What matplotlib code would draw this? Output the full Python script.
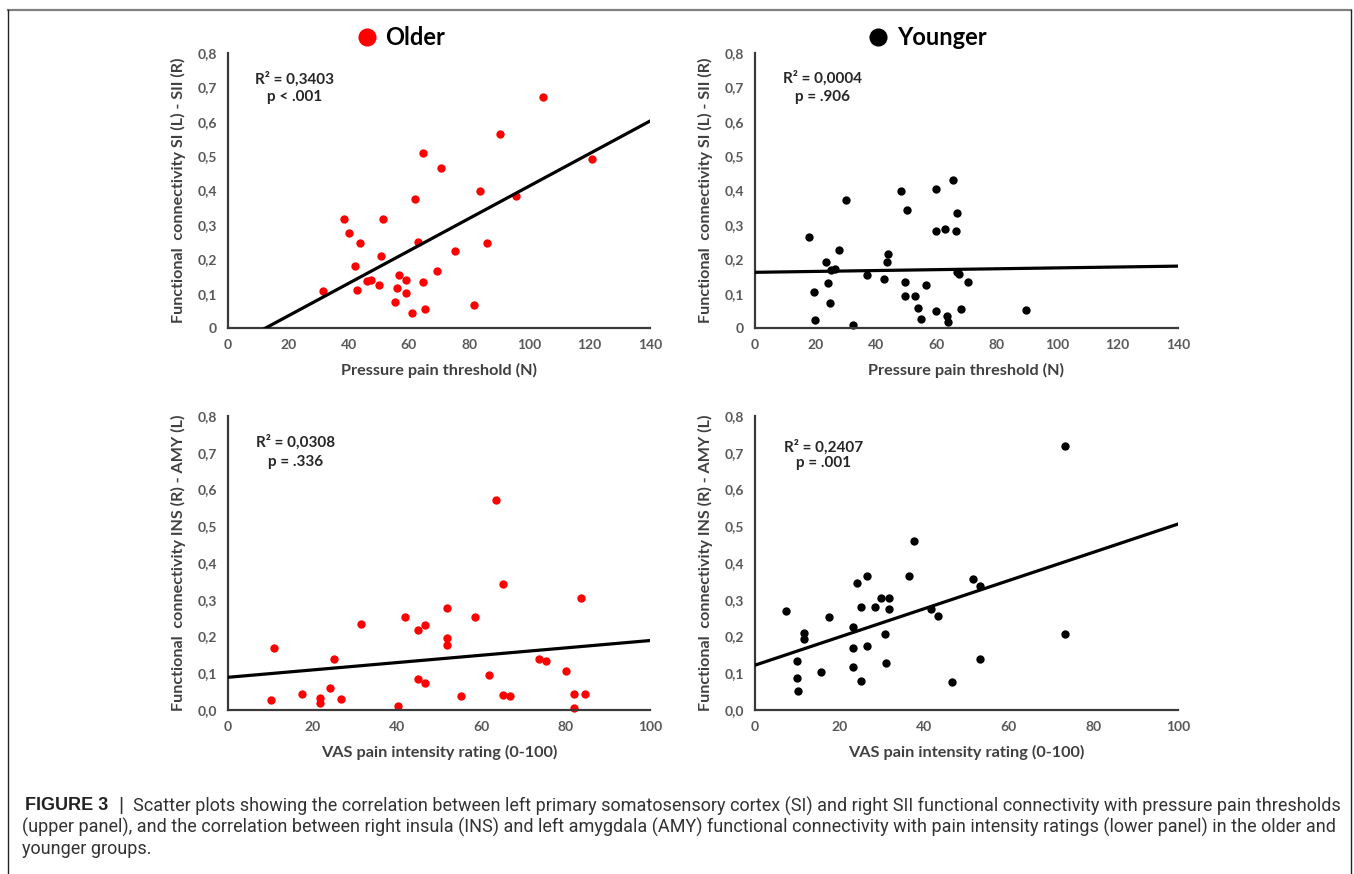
import numpy as np
import matplotlib
matplotlib.use('Agg')
from matplotlib import pyplot as plt
from matplotlib import font_manager
from matplotlib.lines import Line2D

# ---- data ----
# older group, pressure pain threshold vs SI(L)-SII(R)
older_ppt_x = [31.5, 38.5, 40.0, 43.8, 42.1, 42.7, 46.1, 47.6, 50.1, 50.9, 51.4,
               55.4, 56.2, 56.7, 58.9, 59.1, 61.2, 61.9, 62.9, 64.6, 64.6, 65.2,
               69.5, 70.7, 75.4, 81.5, 83.6, 86.0, 90.1, 95.7, 104.6, 120.7]
older_ppt_y = [0.107, 0.318, 0.277, 0.246, 0.179, 0.110, 0.136, 0.141, 0.126, 0.209, 0.318,
               0.075, 0.117, 0.155, 0.102, 0.139, 0.045, 0.375, 0.250, 0.510, 0.133, 0.054,
               0.167, 0.465, 0.224, 0.067, 0.399, 0.248, 0.563, 0.383, 0.673, 0.492]
older_ppt_trend = [-0.059, 0.602]   # trend line value at x=0 and x=140

# younger group, pressure pain threshold vs SI(L)-SII(R)
younger_ppt_x = [18.0, 19.4, 20.0, 23.4, 24.3, 24.9, 25.3, 26.4, 27.9, 30.0, 32.3,
                 37.1, 42.8, 43.8, 44.0, 48.3, 49.8, 49.6, 50.3, 52.9, 53.8, 54.9,
                 56.6, 59.8, 59.9, 59.9, 63.0, 63.7, 64.0, 65.5, 66.7, 66.6, 66.8,
                 67.5, 68.2, 70.6, 89.6]
younger_ppt_y = [0.265, 0.106, 0.024, 0.192, 0.132, 0.074, 0.168, 0.173, 0.226, 0.371, 0.010,
                 0.155, 0.143, 0.192, 0.216, 0.400, 0.134, 0.094, 0.344, 0.094, 0.057, 0.026,
                 0.126, 0.405, 0.281, 0.050, 0.287, 0.036, 0.018, 0.431, 0.335, 0.281, 0.163,
                 0.156, 0.055, 0.133, 0.051]
younger_ppt_trend = [0.162, 0.180]

# older group, VAS rating vs INS(R)-AMY(L)
older_vas_x = [10.1, 10.9, 17.5, 21.7, 21.7, 24.2, 25.0, 26.7, 31.6, 40.2, 41.9,
               45.1, 45.1, 46.8, 46.8, 51.8, 51.8, 51.8, 55.2, 58.5, 61.8, 63.5,
               65.1, 65.1, 66.9, 73.7, 75.3, 80.2, 82.1, 82.1, 83.6, 84.5]
older_vas_y = [0.027, 0.169, 0.044, 0.033, 0.019, 0.060, 0.138, 0.029, 0.235, 0.012, 0.254,
               0.217, 0.083, 0.231, 0.073, 0.277, 0.195, 0.178, 0.037, 0.254, 0.094, 0.571,
               0.342, 0.040, 0.038, 0.138, 0.132, 0.105, 0.044, 0.005, 0.304, 0.043]
older_vas_trend = [0.089, 0.189]     # at x=0 and x=100

# younger group, VAS rating vs INS(R)-AMY(L)
younger_vas_x = [7.3, 9.9, 9.9, 10.1, 11.7, 11.5, 15.7, 17.5, 23.1, 23.2, 23.1,
                 24.0, 25.0, 25.0, 26.5, 26.5, 28.3, 29.8, 30.7, 31.0, 31.7, 31.6,
                 36.5, 37.6, 41.7, 43.3, 46.6, 51.6, 53.3, 53.3, 73.4, 73.4]
younger_vas_y = [0.269, 0.134, 0.088, 0.052, 0.209, 0.193, 0.103, 0.252, 0.227, 0.170, 0.118,
                 0.345, 0.279, 0.079, 0.365, 0.174, 0.279, 0.306, 0.206, 0.129, 0.306, 0.274,
                 0.365, 0.461, 0.276, 0.256, 0.075, 0.356, 0.337, 0.140, 0.718, 0.207]
younger_vas_trend = [0.122, 0.506]

ppt_ticks = [0, 20, 40, 60, 80, 100, 120, 140]
vas_ticks = [0, 20, 40, 60, 80, 100]
fc_ticks = [0, 0.1, 0.2, 0.3, 0.4, 0.5, 0.6, 0.7, 0.8]
fc_labels_top = ['0', '0,1', '0,2', '0,3', '0,4', '0,5', '0,6', '0,7', '0,8']
fc_labels_bottom = ['0,0', '0,1', '0,2', '0,3', '0,4', '0,5', '0,6', '0,7', '0,8']

stats = ['R² = 0,3403\np < .001', 'R² = 0,0004\np = .906',
         'R² = 0,0308\np = .336', 'R² = 0,2407\np = .001']

caption_lines = [
    'Scatter plots showing the correlation between left primary somatosensory cortex (SI) '
    'and right SII functional connectivity with pressure pain thresholds',
    '(upper panel), and the correlation between right insula (INS) and left amygdala (AMY) '
    'functional connectivity with pain intensity ratings (lower panel) in the older and',
    'younger groups.',
]

# ---- fonts ----
installed = {f.name for f in font_manager.fontManager.ttflist}
lab_font = 'Lato' if 'Lato' in installed else 'DejaVu Sans'
cap_font = 'Roboto' if 'Roboto' in installed else 'Liberation Sans'
plt.rcParams['font.family'] = [lab_font, 'DejaVu Sans']

W, H = 1354, 874
fig = plt.figure(figsize=(W / 100, H / 100), dpi=100)
fig.patch.set_facecolor('white')


def px_ax(x0, y_top, x1, y_bot):
    return fig.add_axes([x0 / W, 1 - y_bot / H, (x1 - x0) / W, (y_bot - y_top) / H])


def style(ax, xticks, xmax, ylabels, xlabel, ylabel, xlab_y):
    ax.set_xlim(0, xmax)
    ax.set_ylim(0, 0.8)
    for s in ['top', 'right']:
        ax.spines[s].set_visible(False)
    for s in ['left', 'bottom']:
        ax.spines[s].set_color('#3a3a3a')
        ax.spines[s].set_linewidth(1.6)
    ax.set_xticks(xticks)
    ax.set_xticklabels([str(t) for t in xticks])
    ax.set_yticks(fc_ticks)
    ax.set_yticklabels(ylabels)
    ax.tick_params(length=0, labelsize=10, labelcolor='#595959', pad=8)
    for lbl in ax.get_xticklabels() + ax.get_yticklabels():
        lbl.set_fontweight('bold')
    ax.text(0.5, xlab_y, xlabel, transform=ax.transAxes, ha='center', va='center',
            fontsize=11.7, fontweight='bold', color='#404040')
    ax.text(-0.118, 0.5, ylabel, transform=ax.transAxes, ha='center', va='center',
            rotation=90, fontsize=11.6, fontweight='bold', color='#404040')


def panel(ax, x, y, color, trend, xmax, stat, sx, sy, ls):
    ax.scatter(x, y, s=36, color=color, zorder=2, clip_on=False, linewidths=0)
    ax.plot([0, xmax], trend, color='black', lw=2.3, zorder=3)
    ax.text(sx, sy, stat, ha='center', va='center', fontsize=11, fontweight='bold',
            color='#262626', linespacing=ls, multialignment='center')


ax1 = px_ax(228, 53, 650, 328)
ax2 = px_ax(755, 53, 1178, 328)
ax3 = px_ax(228, 416, 650, 710)
ax4 = px_ax(755, 416, 1178, 710)

ylab_top = 'Functional  connectivity SI (L) - SII (R)'
ylab_bot = 'Functional  connectivity INS (R) - AMY (L)'

style(ax1, ppt_ticks, 140, fc_labels_top, 'Pressure pain threshold (N)', ylab_top, -0.156)
style(ax2, ppt_ticks, 140, fc_labels_top, 'Pressure pain threshold (N)', ylab_top, -0.156)
style(ax3, vas_ticks, 100, fc_labels_bottom, 'VAS pain intensity rating (0-100)', ylab_bot, -0.143)
style(ax4, vas_ticks, 100, fc_labels_bottom, 'VAS pain intensity rating (0-100)', ylab_bot, -0.143)

panel(ax1, older_ppt_x, older_ppt_y, '#ff0000', older_ppt_trend, 140, stats[0], 22.2, 0.70, 1.3)
panel(ax2, younger_ppt_x, younger_ppt_y, 'black', younger_ppt_trend, 140, stats[1], 22.5, 0.70, 1.35)
panel(ax3, older_vas_x, older_vas_y, '#ff0000', older_vas_trend, 100, stats[2], 15.9, 0.703, 1.5)
panel(ax4, younger_vas_x, younger_vas_y, 'black', younger_vas_trend, 100, stats[3], 16.1, 0.694, 1.15)

# group titles with coloured dots
for ax, col, name, dx, tx in [(ax1, '#ff0000', 'Older', 0.329, 0.372),
                              (ax2, 'black', 'Younger', 0.291, 0.336)]:
    ax.scatter([dx], [1.058], s=170, color=col, transform=ax.transAxes,
               clip_on=False, linewidths=0)
    ax.text(tx, 1.058, name, transform=ax.transAxes, ha='left', va='center',
            fontsize=17, fontweight='bold', color='black')

# frame around figure (open at the bottom)
fig.add_artist(Line2D([8 / W, 1351 / W], [1 - 10 / H] * 2, transform=fig.transFigure,
                      color='#808080', lw=1.6))
fig.add_artist(Line2D([8 / W, 8 / W], [1 - 10 / H, 0], transform=fig.transFigure,
                      color='#222222', lw=1.0))
fig.add_artist(Line2D([1351 / W, 1351 / W], [1 - 10 / H, 0], transform=fig.transFigure,
                      color='#222222', lw=1.0))

# caption
cap_y = [806, 827.5, 849]
fig.text(25 / W, 1 - cap_y[0] / H, 'FIGURE 3', family=['Liberation Sans', 'DejaVu Sans'],
         fontweight='bold', fontsize=13, color='#222222', va='center')
fig.text(121 / W, 1 - cap_y[0] / H, '|', family=['Liberation Sans', 'DejaVu Sans'],
         fontsize=14, color='#333333', va='center', ha='center')
cap_texts = []
cap_x = [133, 22, 22]
for line, xx, yy in zip(caption_lines, cap_x, cap_y):
    cap_texts.append(fig.text(xx / W, 1 - yy / H, line, family=[cap_font, 'DejaVu Sans'],
                              fontsize=10, color='#333333', va='center'))
fig.canvas.draw()
r = fig.canvas.get_renderer()
# pick one size so the two long lines fit the width they take in the original
scale = min((1340 - 133) / cap_texts[0].get_window_extent(r).width,
            (1340 - 22) / cap_texts[1].get_window_extent(r).width)
for t in cap_texts:
    t.set_fontsize(10 * scale)

fig.savefig('out.png', dpi=100, facecolor='white')
